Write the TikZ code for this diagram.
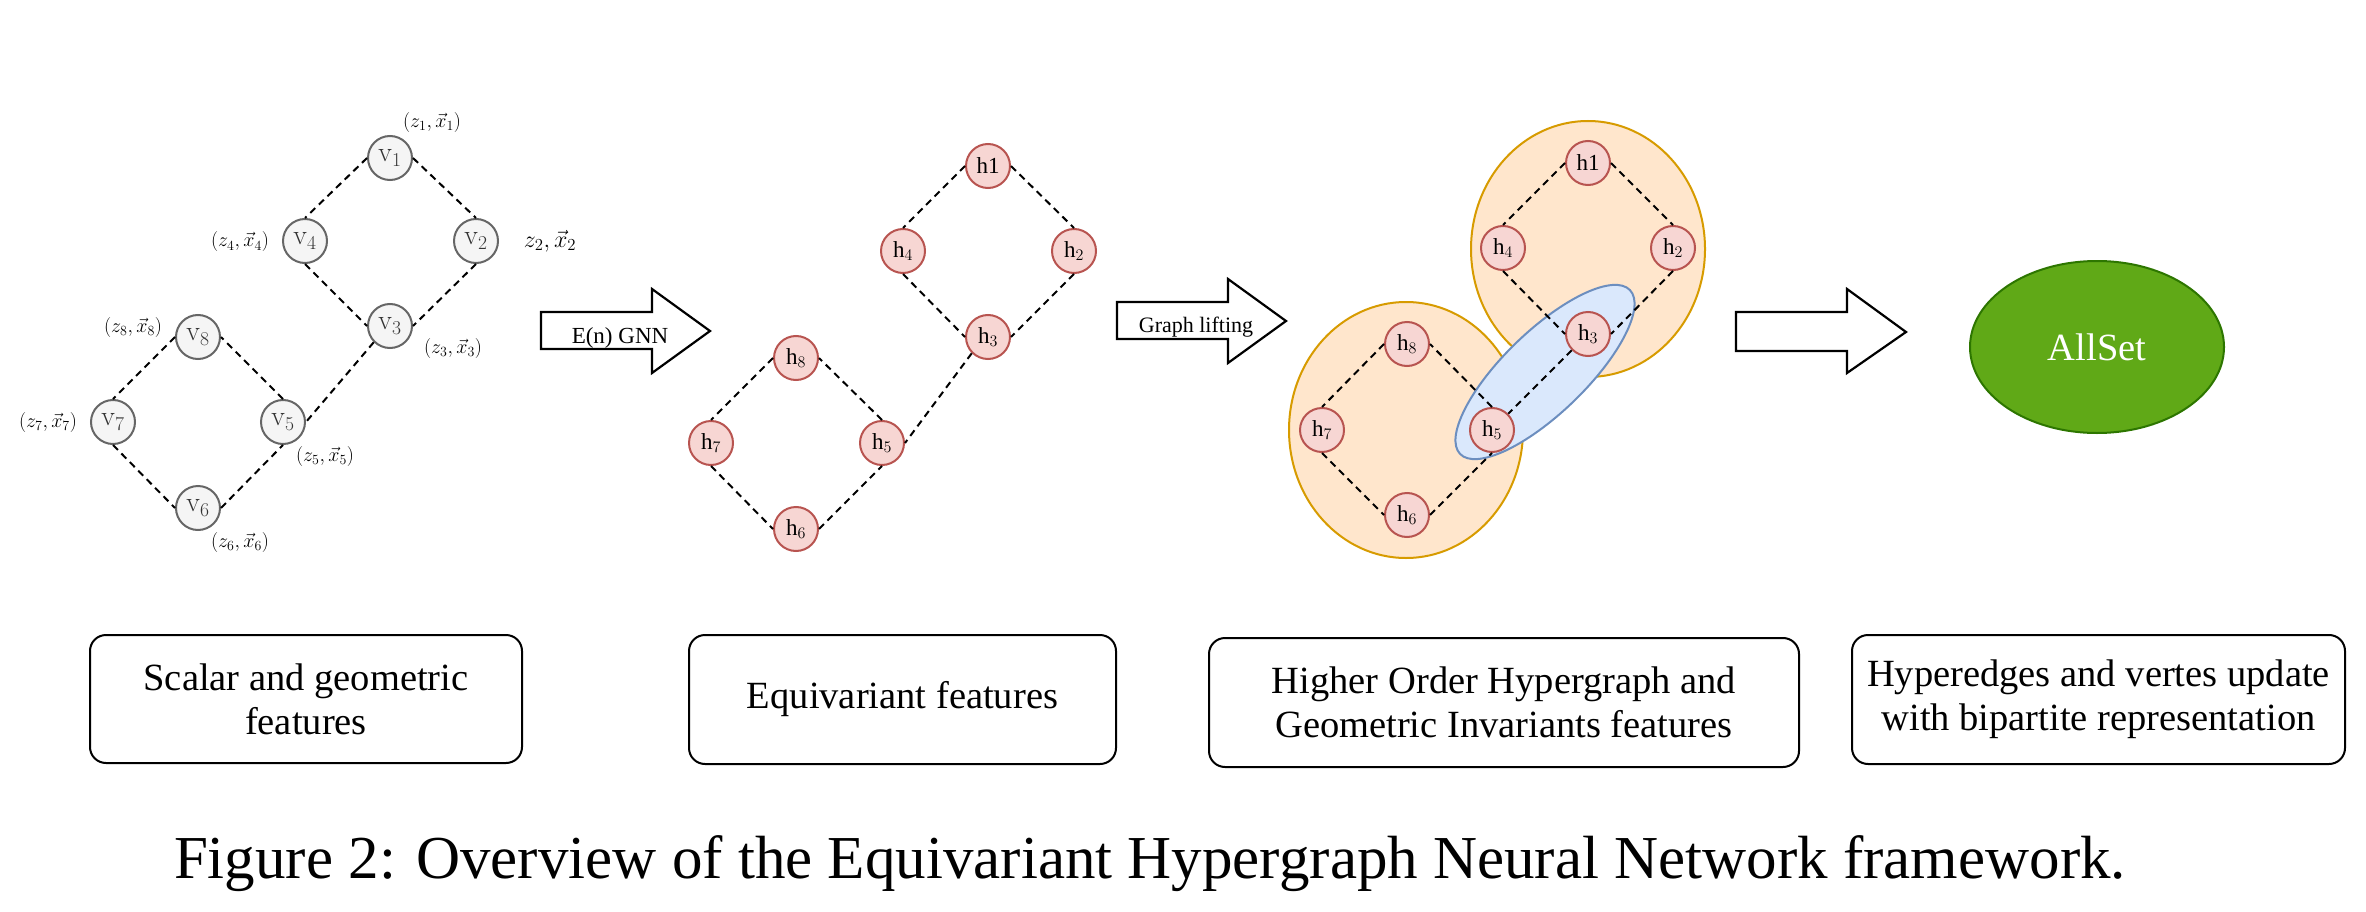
\RequirePackage{fix-cm}
\documentclass[tikz,border=0pt]{standalone}
\usepackage[no-math]{fontspec}
\setmainfont{Liberation Serif}
\usetikzlibrary{shapes.geometric}
\definecolor{vfill}{HTML}{F5F5F5}
\definecolor{vdraw}{HTML}{666666}
\definecolor{vtext}{HTML}{333333}
\definecolor{hfill}{HTML}{F7D6D3}
\definecolor{hdraw}{HTML}{B85450}
\definecolor{ofill}{HTML}{FFE6CC}
\definecolor{odraw}{HTML}{D79B00}
\definecolor{bfill}{HTML}{DAE8FC}
\definecolor{bdraw}{HTML}{6C8EBF}
\definecolor{gfill}{HTML}{60A917}
\definecolor{gdraw}{HTML}{2D7600}
\begin{document}
\begin{tikzpicture}[x=1pt,y=-1pt,
  vnode/.style={circle, draw=vdraw, fill=vfill, line width=2pt, minimum size=44pt, inner sep=0pt, text=vtext, font=\fontsize{28}{30}\selectfont},
  hnode/.style={circle, draw=hdraw, fill=hfill, line width=2pt, minimum size=44pt, inner sep=0pt, font=\fontsize{23}{25}\selectfont},
  edge/.style={dash pattern=on 7pt off 5pt, line width=2pt},
  lab/.style={font=\fontsize{20}{22}\selectfont, inner sep=0pt, text=black},
  box/.style={draw, rounded corners=16pt, line width=2pt, align=center, inner sep=0pt, font=\fontsize{38.5}{44}\selectfont},
  fatarrow/.style={draw, line width=2.2pt, fill=white, line join=miter},
  arrowtext/.style={anchor=base, inner sep=0pt, font=\fontsize{23}{25}\selectfont},
  hyper/.style={ellipse, draw=odraw, fill=ofill, line width=2pt, minimum width=234pt, minimum height=256pt, inner sep=0pt},
  ]
\useasboundingbox (0,0) rectangle (2366,912);

% ---------- stage 1 ----------
\node[vnode] (v1) at (390,158) {$\mathrm{v}_1$};
\node[vnode] (v4) at (305,241) {$\mathrm{v}_4$};
\node[vnode] (v2) at (476,241) {$\mathrm{v}_2$};
\node[vnode] (v3) at (390,326) {$\mathrm{v}_3$};
\node[vnode] (v8) at (198,337) {$\mathrm{v}_8$};
\node[vnode] (v7) at (113,422) {$\mathrm{v}_7$};
\node[vnode] (v5) at (283,422) {$\mathrm{v}_5$};
\node[vnode] (v6) at (198,508) {$\mathrm{v}_6$};
\draw[edge] (v1.west) -- (v4.north);
\draw[edge] (v1.east) -- (v2.north);
\draw[edge] (v4.south) -- (v3.west);
\draw[edge] (v2.south) -- (v3.east);
\draw[edge] (v3.south west) -- (v5.east);
\draw[edge] (v5.north) -- (v8.east);
\draw[edge] (v8.west) -- (v7.north);
\draw[edge] (v7.south) -- (v6.west);
\draw[edge] (v6.east) -- (v5.south);

\node[lab] (l1) at (432,123) {$(z_1,\vec{x}_1)$};
\node[lab] (l4) at (240,242) {$(z_4,\vec{x}_4)$};
\node[lab] (l3) at (453,348) {$(z_3,\vec{x}_3)$};
\node[lab] (l8) at (133,327) {$(z_8,\vec{x}_8)$};
\node[lab] (l7) at (48,422) {$(z_7,\vec{x}_7)$};
\node[lab] (l5) at (325,456) {$(z_5,\vec{x}_5)$};
\node[lab] (l6) at (240,542) {$(z_6,\vec{x}_6)$};
\node[lab, font=\fontsize{24}{26}\selectfont] (l2) at (550,241) {$z_2,\vec{x}_2$};

% ---------- arrow 1 ----------
\draw[fatarrow] (541,312) -- (652,312) -- (652,289) -- (710,331) -- (652,373) -- (652,349) -- (541,349) -- cycle;
\node[arrowtext] (a1) at (620,343) {E(n) GNN};

% ---------- stage 2 ----------
\node[hnode] (h1) at (988,166) {h1};
\node[hnode] (h4) at (903,251) {h$_4$};
\node[hnode] (h2) at (1074,251) {h$_2$};
\node[hnode] (h3) at (988,337) {h$_3$};
\node[hnode] (h8) at (796,358) {h$_8$};
\node[hnode] (h7) at (711,443) {h$_7$};
\node[hnode] (h5) at (882,443) {h$_5$};
\node[hnode] (h6) at (796,529) {h$_6$};
\draw[edge] (h1.west) -- (h4.north);
\draw[edge] (h1.east) -- (h2.north);
\draw[edge] (h4.south) -- (h3.west);
\draw[edge] (h2.south) -- (h3.east);
\draw[edge] (h3.south west) -- (h5.east);
\draw[edge] (h5.north) -- (h8.east);
\draw[edge] (h8.west) -- (h7.north);
\draw[edge] (h7.south) -- (h6.west);
\draw[edge] (h6.east) -- (h5.south);

% ---------- arrow 2 ----------
\draw[fatarrow] (1117,302) -- (1228,302) -- (1228,279) -- (1286,321) -- (1228,363) -- (1228,339) -- (1117,339) -- cycle;
\node[arrowtext, font=\fontsize{22}{24}\selectfont] (a2) at (1196,332) {Graph lifting};

% ---------- stage 3 ----------
\node[hyper] (e1) at (1588,249) {};
\node[hyper] (e2) at (1406,430) {};
\node[ellipse, draw=bdraw, fill=bfill, line width=2pt, minimum width=236pt, minimum height=82pt, inner sep=0pt, rotate=44] (e3) at (1545,372) {};
\node[hnode] (k1) at (1588,163) {h1};
\node[hnode] (k4) at (1503,248) {h$_4$};
\node[hnode] (k2) at (1673,248) {h$_2$};
\node[hnode] (k3) at (1588,334) {h$_3$};
\node[hnode] (k8) at (1407,344) {h$_8$};
\node[hnode] (k7) at (1322,430) {h$_7$};
\node[hnode] (k5) at (1492,430) {h$_5$};
\node[hnode] (k6) at (1407,515) {h$_6$};
\draw[edge] (k1.west) -- (k4.north);
\draw[edge] (k1.east) -- (k2.north);
\draw[edge] (k4.south) -- (k3.west);
\draw[edge] (k2.south) -- (k3.east);
\draw[edge] (k3.south west) -- (k5.north east);
\draw[edge] (k5.north) -- (k8.east);
\draw[edge] (k8.west) -- (k7.north);
\draw[edge] (k7.south) -- (k6.west);
\draw[edge] (k6.east) -- (k5.south);

% ---------- arrow 3 ----------
\draw[fatarrow] (1736,312) -- (1847,312) -- (1847,289) -- (1906,332) -- (1847,373) -- (1847,351) -- (1736,351) -- cycle;

% ---------- AllSet ----------
\node[ellipse, draw=gdraw, fill=gfill, line width=2pt, minimum width=254pt, minimum height=172pt, inner sep=0pt, text=white, font=\fontsize{38.5}{44}\selectfont] (allset) at (2097,347) {AllSet};

% ---------- boxes ----------
\node[box, minimum width=432pt, minimum height=128pt] (b1) at (306,699) {Scalar and geometric\\features};
\node[box, minimum width=427pt, minimum height=129pt] (b2) at (902.5,699.5) {Equivariant features};
\node[box, minimum width=590pt, minimum height=129pt] (b3) at (1504,702.5) {Higher Order Hypergraph and\\Geometric Invariants features};
\node[box, minimum width=493pt, minimum height=129pt] (b4) at (2098.5,699.5) {Hyperedges and vertes update\\with bipartite representation};

% ---------- caption ----------
\node[anchor=base, inner sep=0pt, font=\fontsize{61}{70}\selectfont] (cap) at (1150,878) {Figure 2: Overview of the Equivariant Hypergraph Neural Network framework.};
\end{tikzpicture}
\end{document}
